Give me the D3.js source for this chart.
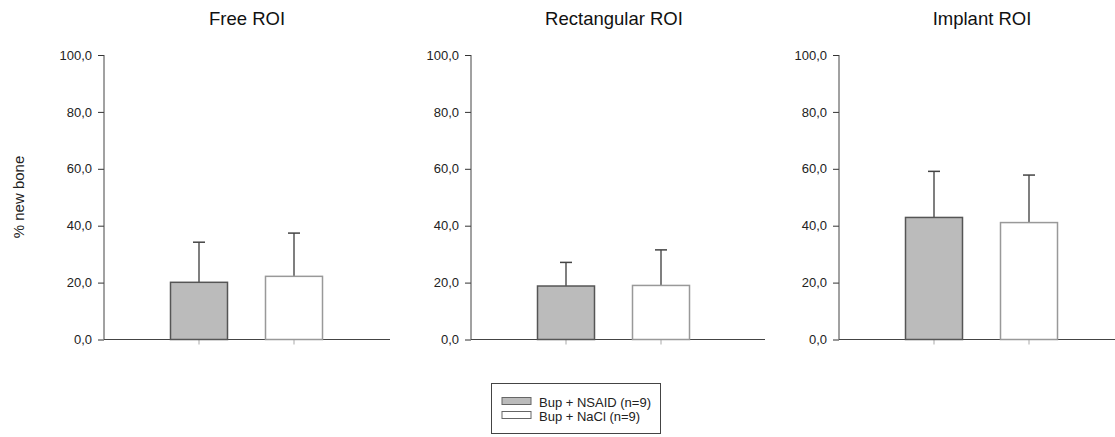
<!DOCTYPE html>
<html>
<head>
  <meta charset="utf-8">
  <title>% new bone by ROI</title>
  <script src="https://d3js.org/d3.v7.min.js"></script>
  <style>
    body {
      margin: 0;
      background: #fff;
      font-family: Arial, 'Liberation Sans', sans-serif;
    }
    .title { font-size: 18.5px; fill: #111; text-anchor: middle; }
    .tick-label { font-size: 13px; fill: #222; }
    .legend-text { font-size: 13px; fill: #222; }
  </style>
</head>
<body>
  <svg id="chart" width="1115" height="437"></svg>
  <script>
    // data
    const panels = ["Free ROI", "Rectangular ROI", "Implant ROI"];
    const groups = ["Bup + NSAID (n=9)", "Bup + NaCl (n=9)"];
    const nsaidMean = [20.1, 18.8, 42.9];
    const nsaidSD = [14.1, 8.3, 16.2];
    const naclMean = [22.2, 19.0, 41.1];
    const naclSD = [15.2, 12.5, 16.7];
    const yTicks = [0, 20, 40, 60, 80, 100];

    const svg = d3.select("#chart");
    const fills = ["#bbbbbb", "#ffffff"];
    const strokes = ["#555555", "#999999"];

    // layout of the three small panels
    const panelX = [104, 471, 839];
    const axisLen = [286, 294, 280];
    const y = d3.scaleLinear().domain([0, 100]).range([339.5, 55]);
    const fmt = v => d3.format(".1f")(v).replace(".", ",");

    panels.forEach((name, p) => {
      const g = svg.append("g").attr("transform", `translate(${panelX[p]},0)`);
      const x = d3.scaleLinear().domain([0, 3]).range([0, 285]);
      const barW = x(0.6) - x(0);

      // y axis
      const yAxis = d3.axisLeft(y).tickValues(yTicks).tickFormat(fmt).tickSize(6).tickPadding(6);
      const ya = g.append("g").call(yAxis);
      ya.attr("font-family", null).attr("font-size", null);
      ya.select(".domain").remove();
      ya.selectAll("line").attr("stroke", "#333");
      ya.selectAll("text").attr("class", "tick-label");
      g.append("line")
        .attr("x1", 0).attr("x2", 0)
        .attr("y1", y(100)).attr("y2", y(0))
        .attr("stroke", "#444");

      // x axis line
      g.append("line")
        .attr("x1", 0).attr("x2", axisLen[p])
        .attr("y1", y(0)).attr("y2", y(0))
        .attr("stroke", "#444");

      const rows = [
        { mean: nsaidMean[p], sd: nsaidSD[p], pos: 1, i: 0 },
        { mean: naclMean[p], sd: naclSD[p], pos: 2, i: 1 }
      ];

      // x ticks
      g.selectAll(".xtick").data(rows).enter().append("line")
        .attr("x1", d => x(d.pos)).attr("x2", d => x(d.pos))
        .attr("y1", y(0)).attr("y2", y(0) + 5)
        .attr("stroke", "#aaa");

      // error bars (upper only)
      g.selectAll(".err").data(rows).enter().append("line")
        .attr("x1", d => x(d.pos)).attr("x2", d => x(d.pos))
        .attr("y1", d => y(d.mean)).attr("y2", d => y(d.mean + d.sd))
        .attr("stroke", "#555").attr("stroke-width", 1.5);
      g.selectAll(".cap").data(rows).enter().append("line")
        .attr("x1", d => x(d.pos) - 6).attr("x2", d => x(d.pos) + 6)
        .attr("y1", d => y(d.mean + d.sd)).attr("y2", d => y(d.mean + d.sd))
        .attr("stroke", "#444").attr("stroke-width", 1.5);

      // bars
      g.selectAll(".bar").data(rows).enter().append("rect")
        .attr("x", d => x(d.pos) - barW / 2)
        .attr("y", d => y(d.mean))
        .attr("width", barW)
        .attr("height", d => y(0) - y(d.mean))
        .attr("fill", d => fills[d.i])
        .attr("stroke", d => strokes[d.i])
        .attr("stroke-width", 1.5);

      g.append("text")
        .attr("class", "title")
        .attr("x", 143)
        .attr("y", 25)
        .text(name);
    });

    // y label
    svg.append("text")
      .attr("transform", "translate(24,197) rotate(-90)")
      .attr("text-anchor", "middle")
      .attr("font-size", 15)
      .attr("fill", "#222")
      .text("% new bone");

    // legend
    const legend = svg.append("g");
    legend.append("rect")
      .attr("x", 491.5).attr("y", 383.5)
      .attr("width", 169).attr("height", 50)
      .attr("fill", "#fff").attr("stroke", "#444");
    const items = legend.selectAll(".item").data(groups).enter().append("g")
      .attr("transform", (d, i) => `translate(502,${397.5 + i * 14})`);
    items.append("rect")
      .attr("width", 29).attr("height", 7)
      .attr("fill", (d, i) => fills[i])
      .attr("stroke", "#666");
    items.append("text")
      .attr("class", "legend-text")
      .attr("x", 37).attr("y", 9)
      .text(d => d);
  </script>
</body>
</html>
